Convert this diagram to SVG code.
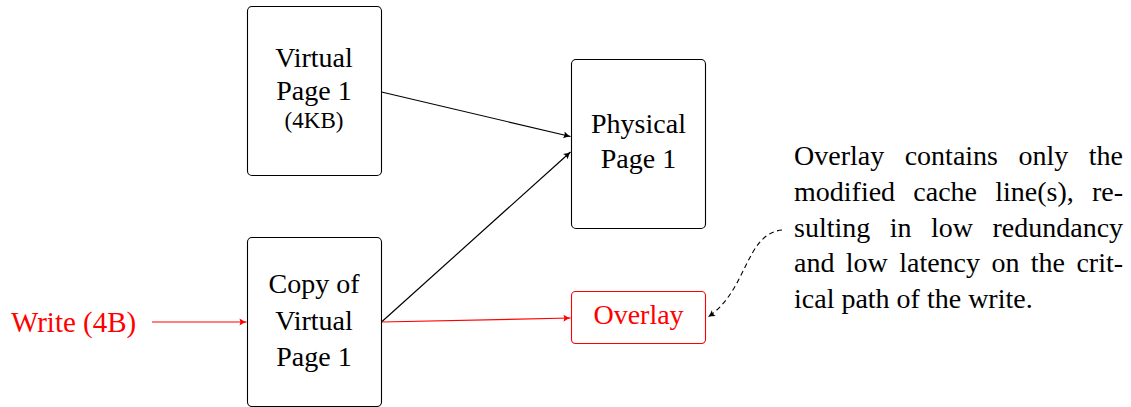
<svg xmlns="http://www.w3.org/2000/svg" width="1131" height="407" viewBox="0 0 1131 407">
  <style>
    .box { fill: #ffffff; stroke: #000000; stroke-width: 1.1; }
    .box-red { fill: #ffffff; stroke: #ff0000; stroke-width: 1.1; }
    .lbl { font-family: "Liberation Serif", "Times New Roman", serif; font-size: 28px; fill: #000000; text-anchor: middle; }
    .small { font-size: 23px; }
    .para { font-family: "Liberation Serif", "Times New Roman", serif; font-size: 28px; fill: #000000; }
    .red { fill: #ff0000; }
    .big { font-size: 29px; }
    .edge { fill: none; stroke: #000000; stroke-width: 1.2; marker-end: url(#tip); }
    .edge-red { fill: none; stroke: #ff0000; stroke-width: 1.2; marker-end: url(#tip-red); }
    .dashed { fill: none; stroke: #000000; stroke-width: 1.1; stroke-dasharray: 5 3.5; marker-end: url(#tip); }
  </style>
  <defs>
    <marker id="tip" viewBox="-8 -4 9 8" refX="0" refY="0" markerWidth="9" markerHeight="8" markerUnits="userSpaceOnUse" orient="auto">
      <path d="M-7,-3.5 Q-3,-0.8 0,0 Q-3,0.8 -7,3.5 Q-5.2,0 -7,-3.5 Z" fill="#000000"/>
    </marker>
    <marker id="tip-red" viewBox="-8 -4 9 8" refX="0" refY="0" markerWidth="9" markerHeight="8" markerUnits="userSpaceOnUse" orient="auto">
      <path d="M-7,-3.5 Q-3,-0.8 0,0 Q-3,0.8 -7,3.5 Q-5.2,0 -7,-3.5 Z" fill="#ff0000"/>
    </marker>
  </defs>

  <!-- connectors -->
  <g id="connectors">
    <path class="edge" d="M381.5 92 L570.5 136.5"/>
    <path class="edge" d="M381.5 322 L570.5 152"/>
    <path class="edge-red" d="M152 322 L246.5 322"/>
    <path class="edge-red" d="M381.5 322 L570.5 318"/>
    <path class="dashed" d="M782 230 C 745 234, 748 290, 708 317"/>
  </g>

  <!-- pages -->
  <g id="virtual-page">
    <rect class="box" x="247.5" y="6.5" width="134" height="169" rx="4.5"/>
    <text class="lbl" x="314" y="67">Virtual</text>
    <text class="lbl" x="314" y="100">Page 1</text>
    <text class="lbl small" x="314" y="128">(4KB)</text>
  </g>

  <g id="physical-page">
    <rect class="box" x="571.5" y="59.5" width="134" height="169" rx="4.5"/>
    <text class="lbl" x="638.5" y="133">Physical</text>
    <text class="lbl" x="638.5" y="168">Page 1</text>
  </g>

  <g id="copy-page">
    <rect class="box" x="247.5" y="237.5" width="134" height="169" rx="4.5"/>
    <text class="lbl" x="314" y="293">Copy of</text>
    <text class="lbl" x="314" y="330">Virtual</text>
    <text class="lbl" x="314" y="366">Page 1</text>
  </g>

  <g id="overlay">
    <rect class="box-red" x="571.5" y="291.5" width="134" height="52" rx="4"/>
    <text class="lbl red" x="638.5" y="324">Overlay</text>
  </g>

  <g id="write">
    <text class="para red big" x="11" y="332">Write (4B)</text>
  </g>

  <!-- justified note -->
  <g id="note">
    <text class="para" y="165"><tspan x="794">Overlay</tspan><tspan x="904.7">contains</tspan><tspan x="1018.5">only</tspan><tspan x="1088.8">the</tspan></text>
    <text class="para" y="201"><tspan x="794">modified</tspan><tspan x="913.3">cache</tspan><tspan x="995.2">line(s),</tspan><tspan x="1091.9">re-</tspan></text>
    <text class="para" y="237"><tspan x="794">sulting</tspan><tspan x="889.7">in</tspan><tspan x="931">low</tspan><tspan x="992.5">redundancy</tspan></text>
    <text class="para" y="272"><tspan x="794">and</tspan><tspan x="845.8">low</tspan><tspan x="899.2">latency</tspan><tspan x="991.4">on</tspan><tspan x="1030.8">the</tspan><tspan x="1076.4">crit-</tspan></text>
    <text class="para" x="794" y="308">ical path of the write.</text>
  </g>
</svg>
